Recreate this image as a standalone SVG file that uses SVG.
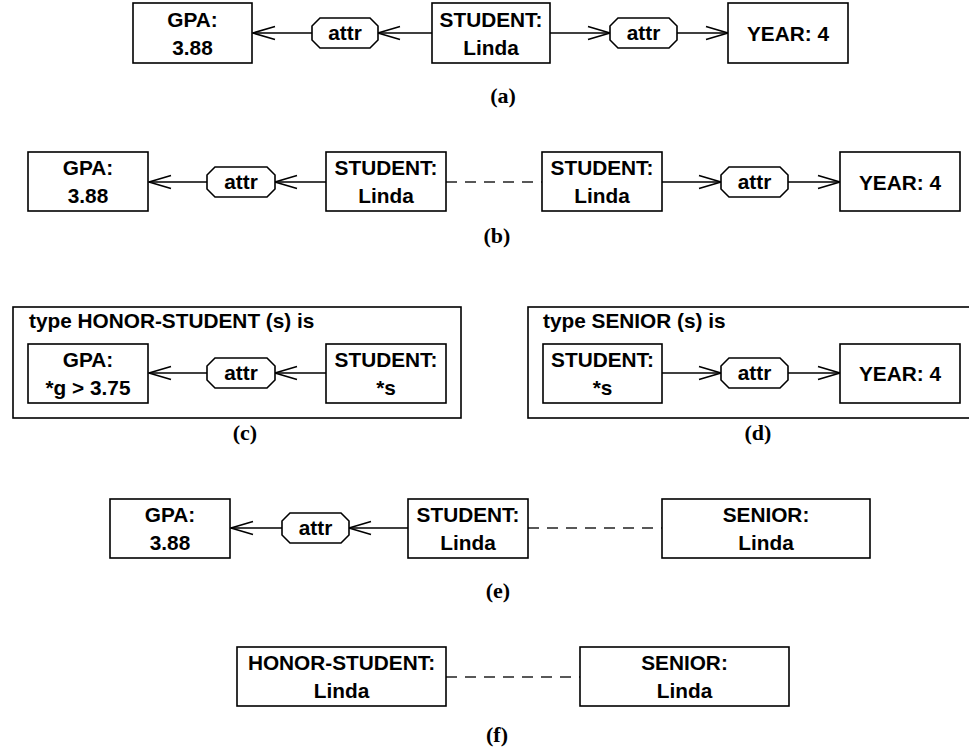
<svg xmlns="http://www.w3.org/2000/svg" width="969" height="749" viewBox="0 0 969 749">
  <style>
    .box { fill: #fff; stroke: #000; stroke-width: 1.6; }
    .frame { fill: none; stroke: #000; stroke-width: 1.6; }
    .rel { fill: #fff; stroke: #000; stroke-width: 1.6; }
    .edge { fill: none; stroke: #000; stroke-width: 1.6; marker-end: url(#open); }
    .dash { fill: none; stroke: #222; stroke-width: 1.6; stroke-dasharray: 11 8; }
    text { font-family: "Liberation Sans", Arial, sans-serif; font-weight: bold; font-size: 20.8px; fill: #000; text-anchor: middle; }
    .title { text-anchor: start; }
    .cap { font-family: "Liberation Serif", "Times New Roman", serif; font-size: 22px; }
  </style>
  <defs>
    <marker id="open" viewBox="-24 -9 26 18" refX="0" refY="0" markerWidth="26" markerHeight="18" markerUnits="userSpaceOnUse" orient="auto" overflow="visible">
      <path d="M-22,-6.5 L0,0 L-22,6.5" fill="none" stroke="#000" stroke-width="1.6"/>
    </marker>
  </defs>

  <!-- connectors -->
  <g id="connectors">
    <!-- (a) -->
    <line class="edge" x1="432" y1="33" x2="378" y2="33"/>
    <line class="edge" x1="312" y1="33" x2="253" y2="33"/>
    <line class="edge" x1="550" y1="33" x2="610" y2="33"/>
    <line class="edge" x1="677" y1="33" x2="728" y2="33"/>
    <!-- (b) -->
    <line class="edge" x1="326" y1="182" x2="275" y2="182"/>
    <line class="edge" x1="207" y1="182" x2="149" y2="182"/>
    <line class="dash" x1="446" y1="182" x2="542" y2="182"/>
    <line class="edge" x1="662" y1="182" x2="721" y2="182"/>
    <line class="edge" x1="788" y1="182" x2="840" y2="182"/>
    <!-- (c) -->
    <line class="edge" x1="326" y1="373" x2="275" y2="373"/>
    <line class="edge" x1="207" y1="373" x2="149" y2="373"/>
    <!-- (d) -->
    <line class="edge" x1="662" y1="373" x2="721" y2="373"/>
    <line class="edge" x1="788" y1="373" x2="840" y2="373"/>
    <!-- (e) -->
    <line class="edge" x1="408" y1="528" x2="349" y2="528"/>
    <line class="edge" x1="282" y1="528" x2="231" y2="528"/>
    <line class="dash" x1="528" y1="528" x2="662" y2="528"/>
    <!-- (f) -->
    <line class="dash" x1="446" y1="677" x2="580" y2="677"/>
  </g>

  <!-- (a) -->
  <g id="a-gpa"><rect class="box" x="133" y="3" width="119" height="60"/><text x="192.5" y="27">GPA:</text><text x="192.5" y="55">3.88</text></g>
  <g id="a-attr1"><path class="rel" d="M320,18 H370 L378,26 V40 L370,48 H320 L312,40 V26 Z"/><text x="345" y="40">attr</text></g>
  <g id="a-student"><rect class="box" x="432" y="3" width="118" height="60"/><text x="491" y="27">STUDENT:</text><text x="491" y="55">Linda</text></g>
  <g id="a-attr2"><path class="rel" d="M618,18 H669 L677,26 V40 L669,48 H618 L610,40 V26 Z"/><text x="643.5" y="40">attr</text></g>
  <g id="a-year"><rect class="box" x="728" y="3" width="120" height="60"/><text x="788" y="41">YEAR: 4</text></g>
  <text class="cap" x="503" y="103">(a)</text>

  <!-- (b) -->
  <g id="b-gpa"><rect class="box" x="28" y="152" width="120" height="59"/><text x="88" y="175">GPA:</text><text x="88" y="203">3.88</text></g>
  <g id="b-attr1"><path class="rel" d="M215,167 H267 L275,175 V189 L267,197 H215 L207,189 V175 Z"/><text x="241" y="189">attr</text></g>
  <g id="b-student1"><rect class="box" x="326" y="152" width="120" height="59"/><text x="386" y="175">STUDENT:</text><text x="386" y="203">Linda</text></g>
  <g id="b-student2"><rect class="box" x="542" y="152" width="120" height="59"/><text x="602" y="175">STUDENT:</text><text x="602" y="203">Linda</text></g>
  <g id="b-attr2"><path class="rel" d="M729,167 H780 L788,175 V189 L780,197 H729 L721,189 V175 Z"/><text x="754.5" y="189">attr</text></g>
  <g id="b-year"><rect class="box" x="840" y="152" width="120" height="59"/><text x="900" y="190">YEAR: 4</text></g>
  <text class="cap" x="497" y="243">(b)</text>

  <!-- (c) type HONOR-STUDENT -->
  <g id="c-type">
    <rect class="frame" x="13" y="307" width="448" height="111"/>
    <text class="title" x="29" y="328">type HONOR-STUDENT (s) is</text>
  </g>
  <g id="c-gpa"><rect class="box" x="28" y="344" width="120" height="59"/><text x="88" y="367">GPA:</text><text x="88" y="395">*g &gt; 3.75</text></g>
  <g id="c-attr"><path class="rel" d="M215,358 H267 L275,366 V380 L267,388 H215 L207,380 V366 Z"/><text x="241" y="380">attr</text></g>
  <g id="c-student"><rect class="box" x="326" y="344" width="120" height="59"/><text x="386" y="367">STUDENT:</text><text x="386" y="395">*s</text></g>
  <text class="cap" x="245" y="440">(c)</text>

  <!-- (d) type SENIOR -->
  <g id="d-type">
    <rect class="frame" x="528" y="307" width="460" height="111"/>
    <text class="title" x="543" y="328">type SENIOR (s) is</text>
  </g>
  <g id="d-student"><rect class="box" x="543" y="344" width="119" height="59"/><text x="602.5" y="367">STUDENT:</text><text x="602.5" y="395">*s</text></g>
  <g id="d-attr"><path class="rel" d="M729,358 H780 L788,366 V380 L780,388 H729 L721,380 V366 Z"/><text x="754.5" y="380">attr</text></g>
  <g id="d-year"><rect class="box" x="840" y="344" width="120" height="59"/><text x="900" y="381">YEAR: 4</text></g>
  <text class="cap" x="758" y="440">(d)</text>

  <!-- (e) -->
  <g id="e-gpa"><rect class="box" x="110" y="499" width="120" height="59"/><text x="170" y="522">GPA:</text><text x="170" y="550">3.88</text></g>
  <g id="e-attr"><path class="rel" d="M290,513 H341 L349,521 V535 L341,543 H290 L282,535 V521 Z"/><text x="315.5" y="535">attr</text></g>
  <g id="e-student"><rect class="box" x="408" y="499" width="120" height="59"/><text x="468" y="522">STUDENT:</text><text x="468" y="550">Linda</text></g>
  <g id="e-senior"><rect class="box" x="662" y="499" width="208" height="59"/><text x="766" y="522">SENIOR:</text><text x="766" y="550">Linda</text></g>
  <text class="cap" x="498" y="598">(e)</text>

  <!-- (f) -->
  <g id="f-honor"><rect class="box" x="237" y="647" width="209" height="59"/><text x="341.5" y="670">HONOR-STUDENT:</text><text x="341.5" y="698">Linda</text></g>
  <g id="f-senior"><rect class="box" x="580" y="647" width="209" height="59"/><text x="684.5" y="670">SENIOR:</text><text x="684.5" y="698">Linda</text></g>
  <text class="cap" x="497" y="742">(f)</text>
</svg>
